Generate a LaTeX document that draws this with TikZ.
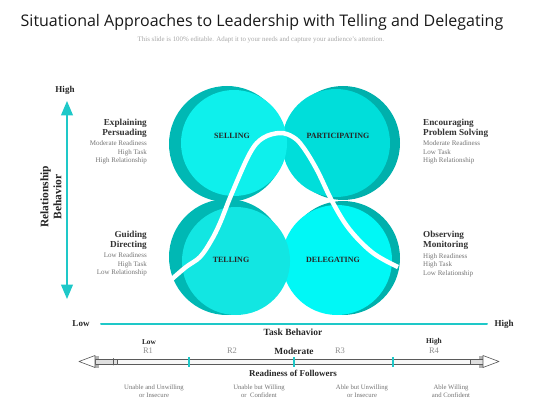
\documentclass[tikz,border=0pt]{standalone}
\usepackage{fontspec}
\setmainfont{Liberation Serif}
\newfontfamily\titlefont{Open Sans}
\usetikzlibrary{arrows}
\definecolor{axiscyan}{RGB}{30,200,200}
\definecolor{brightA}{RGB}{14,240,236}
\definecolor{brightB}{RGB}{0,222,218}
\definecolor{brightC}{RGB}{18,230,226}
\definecolor{brightD}{RGB}{0,248,246}
\definecolor{darkA}{RGB}{0,184,180}
\definecolor{darkB}{RGB}{0,176,172}
\definecolor{rulergray}{RGB}{90,90,90}

\begin{document}
\begin{tikzpicture}[line cap=round,line join=round,>=triangle 45,x=1pt,y=-1pt,
  head/.style={inner sep=0pt,font=\bfseries\fontsize{9.2}{10}\selectfont,text=black!80},
  note/.style={inner sep=0pt,font=\fontsize{7}{8.4}\selectfont,text=black!55},
  axislabel/.style={inner sep=0pt,font=\bfseries\fontsize{9}{10}\selectfont,text=black!85},
  quadrant/.style={inner sep=0pt,font=\bfseries\fontsize{8}{9}\selectfont,text=black!85},
  level/.style={inner sep=0pt,font=\fontsize{8.5}{9}\selectfont,text=black!45},
  follower/.style={inner sep=0pt,align=center,font=\fontsize{6.7}{8}\selectfont,text=black!55},
  rulerline/.style={draw=rulergray,line width=0.6pt},
  ticker/.style={draw=axiscyan,line width=1.8pt,line cap=butt}]

\useasboundingbox (0,0) rectangle (560,420);

\node[inner sep=0pt,font=\titlefont\fontsize{16}{18}\selectfont,text=black!90] (title) at (262,22) {Situational Approaches to Leadership with Telling and Delegating};
\node[inner sep=0pt,font=\fontsize{6.9}{7.5}\selectfont,text=black!35] (subtitle) at (261,40) {This slide is 100\% editable. Adapt it to your needs and capture your audience's attention.};

\fill [darkB] (343,143) circle (57);
\fill [brightB] (336,143) circle (54);
\fill [darkB] (343,258) circle (57);
\fill [brightD] (337,260) circle (55);
\fill [darkA] (227,144) circle (58);
\fill [brightA] (234,143) circle (53);
\fill [darkA] (227,257) circle (58);
\fill [brightC] (236,261) circle (54);

\draw [white,line width=4.5pt,line cap=butt] plot[smooth,tension=0.6] coordinates {(172,279) (186,267) (200,257) (211,241) (220,223) (232,193) (250,153) (263,138) (280,133) (293,137) (303,147) (317,170) (333,203) (350,230) (373,253) (398,267)};

\node[quadrant] (selling) at (232,136) {SELLING};
\node[quadrant] (participating) at (338,136) {PARTICIPATING};
\node[quadrant] (telling) at (231,260) {TELLING};
\node[quadrant] (delegating) at (333,260) {DELEGATING};

\coordinate (ytop) at (67,101);
\coordinate (ybot) at (67,299);
\draw [axiscyan,line width=2.4pt,<->] (ybot) -- (ytop);
\node[axislabel] (yhigh) at (65,90) {High};
\node[inner sep=0pt,rotate=90,align=center,font=\bfseries\fontsize{11.5}{13}\selectfont,text=black!85] (ytitle) at (51,197) {Relationship\\Behavior};

\coordinate (xleft) at (101,324);
\coordinate (xright) at (487,324);
\draw [axiscyan,line width=2pt] (xleft) -- (xright);
\node[axislabel] (xlow) at (81,324) {Low};
\node[axislabel] (xhigh) at (504,324) {High};
\node[axislabel,font=\bfseries\fontsize{9.5}{10}\selectfont] (xtitle) at (293,332) {Task Behavior};

\node[head,anchor=east,align=right] (explain) at (147,128) {Explaining\\Persuading};
\node[note,anchor=east,align=right] (explainnote) at (147,152.5) {Moderate Readiness\\High Task\\High Relationship};
\node[head,anchor=east,align=right] (guide) at (147,240) {Guiding\\Directing};
\node[note,anchor=east,align=right] (guidenote) at (147,264.5) {Low Readiness\\High Task\\Low Relationship};
\node[head,anchor=west,align=left] (encourage) at (423,128) {Encouraging\\Problem Solving};
\node[note,anchor=west,align=left] (encouragenote) at (423,152.5) {Moderate Readiness\\Low Task\\High Relationship};
\node[head,anchor=west,align=left] (observe) at (423,240) {Observing\\Monitoring};
\node[note,anchor=west,align=left] (observenote) at (423,265) {High Readiness\\High Task\\Low Relationship};

\draw [rulerline,fill=gray!25] (95,359) rectangle (117,364);
\draw [rulerline,fill=gray!25] (470,359) rectangle (483,364);
\draw [rulerline,fill=gray!6] (117,359.5) rectangle (470,364.5);
\draw [rulerline] (113.5,358.5) -- (113.5,365);
\fill [gray!60] (94,355.5) rectangle (99,358.5);
\fill [gray!60] (94,364.5) rectangle (99,367.5);
\fill [gray!60] (479,355.5) rectangle (484,358.5);
\fill [gray!60] (479,364.5) rectangle (484,367.5);
\draw [rulerline,fill=white] (95,355.5) -- (79,361.5) -- (95,367.5) -- cycle;
\draw [rulerline,fill=white] (483,355.5) -- (499,361.5) -- (483,367.5) -- cycle;
\draw [ticker] (189,357) -- (189,367);
\draw [ticker] (294,357) -- (294,367);
\draw [ticker] (393,357) -- (393,367);

\node[axislabel,font=\bfseries\fontsize{7.4}{8}\selectfont] (rlow) at (149,342) {Low};
\node[axislabel,font=\bfseries\fontsize{7.4}{8}\selectfont] (rhigh) at (434,342) {High};
\node[level] (r1) at (148,351) {R1};
\node[level] (r2) at (232,351) {R2};
\node[axislabel,font=\bfseries\fontsize{9.4}{10}\selectfont] (moderate) at (294,351) {Moderate};
\node[level] (r3) at (340,351) {R3};
\node[level] (r4) at (434,351) {R4};

\node[axislabel] (readiness) at (293,373) {Readiness of Followers};
\node[follower] (fone) at (154,391) {Unable and Unwilling\\or Insecure};
\node[follower] (ftwo) at (259,391) {Unable but Willing\\or~~Confident};
\node[follower] (fthree) at (362,391) {Able but Unwilling\\or Insecure};
\node[follower] (ffour) at (451,391) {Able Willing\\and Confident};

\end{tikzpicture}
\end{document}
